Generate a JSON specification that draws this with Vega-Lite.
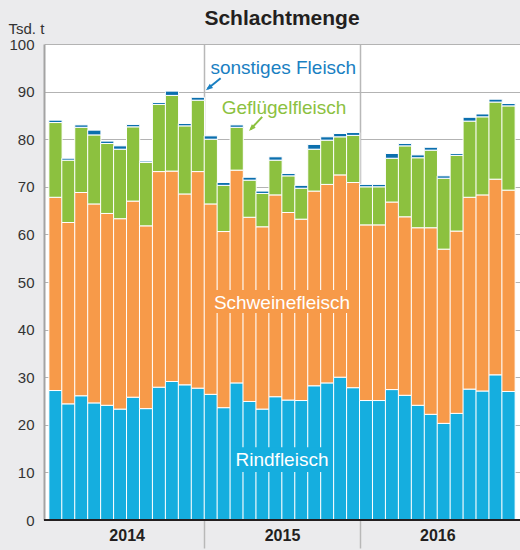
{
  "$schema": "https://vega.github.io/schema/vega-lite/v6.json",
  "width": 476,
  "height": 476,
  "autosize": {"type": "none"},
  "padding": {"left": 44, "top": 44, "right": 0, "bottom": 30},
  "background": "#ebebed",
  "view": {"fill": "white", "stroke": null},
  "config": {"font": "Liberation Sans"},
  "title": {"text": "Schlachtmenge", "fontSize": 21, "fontWeight": "bold", "color": "#231f20", "anchor": "middle", "frame": "group", "baseline": "alphabetic", "offset": -25},
  "layer": [
    {
      "data": {"values": [
        {"monat": "2014-01", "nr": 1, "Rindfleisch": 27.2, "Schweinefleisch": 40.6, "Geflügelfleisch": 15.7, "sonstiges Fleisch": 0.5},
        {"monat": "2014-02", "nr": 2, "Rindfleisch": 24.4, "Schweinefleisch": 38.1, "Geflügelfleisch": 13.1, "sonstiges Fleisch": 0.4},
        {"monat": "2014-03", "nr": 3, "Rindfleisch": 26.1, "Schweinefleisch": 42.7, "Geflügelfleisch": 13.7, "sonstiges Fleisch": 0.5},
        {"monat": "2014-04", "nr": 4, "Rindfleisch": 24.6, "Schweinefleisch": 41.8, "Geflügelfleisch": 14.5, "sonstiges Fleisch": 1.0},
        {"monat": "2014-05", "nr": 5, "Rindfleisch": 24.1, "Schweinefleisch": 40.3, "Geflügelfleisch": 14.7, "sonstiges Fleisch": 0.5},
        {"monat": "2014-06", "nr": 6, "Rindfleisch": 23.3, "Schweinefleisch": 40.0, "Geflügelfleisch": 14.6, "sonstiges Fleisch": 0.7},
        {"monat": "2014-07", "nr": 7, "Rindfleisch": 25.8, "Schweinefleisch": 41.2, "Geflügelfleisch": 15.6, "sonstiges Fleisch": 0.5},
        {"monat": "2014-08", "nr": 8, "Rindfleisch": 23.4, "Schweinefleisch": 38.4, "Geflügelfleisch": 13.3, "sonstiges Fleisch": 0.3},
        {"monat": "2014-09", "nr": 9, "Rindfleisch": 27.9, "Schweinefleisch": 45.3, "Geflügelfleisch": 14.1, "sonstiges Fleisch": 0.4},
        {"monat": "2014-10", "nr": 10, "Rindfleisch": 29.1, "Schweinefleisch": 44.2, "Geflügelfleisch": 15.9, "sonstiges Fleisch": 0.9},
        {"monat": "2014-11", "nr": 11, "Rindfleisch": 28.4, "Schweinefleisch": 40.1, "Geflügelfleisch": 14.3, "sonstiges Fleisch": 0.5},
        {"monat": "2014-12", "nr": 12, "Rindfleisch": 27.7, "Schweinefleisch": 45.5, "Geflügelfleisch": 15.0, "sonstiges Fleisch": 0.6},
        {"monat": "2015-01", "nr": 13, "Rindfleisch": 26.4, "Schweinefleisch": 40.0, "Geflügelfleisch": 13.6, "sonstiges Fleisch": 0.7},
        {"monat": "2015-02", "nr": 14, "Rindfleisch": 23.6, "Schweinefleisch": 37.0, "Geflügelfleisch": 9.7, "sonstiges Fleisch": 0.6},
        {"monat": "2015-03", "nr": 15, "Rindfleisch": 28.8, "Schweinefleisch": 44.7, "Geflügelfleisch": 9.0, "sonstiges Fleisch": 0.5},
        {"monat": "2015-04", "nr": 16, "Rindfleisch": 24.9, "Schweinefleisch": 38.7, "Geflügelfleisch": 7.8, "sonstiges Fleisch": 0.6},
        {"monat": "2015-05", "nr": 17, "Rindfleisch": 23.3, "Schweinefleisch": 38.3, "Geflügelfleisch": 7.0, "sonstiges Fleisch": 0.5},
        {"monat": "2015-06", "nr": 18, "Rindfleisch": 25.9, "Schweinefleisch": 42.4, "Geflügelfleisch": 7.3, "sonstiges Fleisch": 0.7},
        {"monat": "2015-07", "nr": 19, "Rindfleisch": 25.2, "Schweinefleisch": 39.4, "Geflügelfleisch": 7.7, "sonstiges Fleisch": 0.5},
        {"monat": "2015-08", "nr": 20, "Rindfleisch": 25.1, "Schweinefleisch": 38.1, "Geflügelfleisch": 6.5, "sonstiges Fleisch": 0.6},
        {"monat": "2015-09", "nr": 21, "Rindfleisch": 28.2, "Schweinefleisch": 40.9, "Geflügelfleisch": 8.8, "sonstiges Fleisch": 1.0},
        {"monat": "2015-10", "nr": 22, "Rindfleisch": 28.8, "Schweinefleisch": 41.7, "Geflügelfleisch": 9.3, "sonstiges Fleisch": 0.7},
        {"monat": "2015-11", "nr": 23, "Rindfleisch": 30.0, "Schweinefleisch": 42.5, "Geflügelfleisch": 8.0, "sonstiges Fleisch": 0.7},
        {"monat": "2015-12", "nr": 24, "Rindfleisch": 27.8, "Schweinefleisch": 43.1, "Geflügelfleisch": 9.9, "sonstiges Fleisch": 0.6},
        {"monat": "2016-01", "nr": 25, "Rindfleisch": 25.1, "Schweinefleisch": 36.9, "Geflügelfleisch": 8.0, "sonstiges Fleisch": 0.5},
        {"monat": "2016-02", "nr": 26, "Rindfleisch": 25.1, "Schweinefleisch": 36.9, "Geflügelfleisch": 8.0, "sonstiges Fleisch": 0.5},
        {"monat": "2016-03", "nr": 27, "Rindfleisch": 27.4, "Schweinefleisch": 39.4, "Geflügelfleisch": 9.2, "sonstiges Fleisch": 1.0},
        {"monat": "2016-04", "nr": 28, "Rindfleisch": 26.2, "Schweinefleisch": 37.5, "Geflügelfleisch": 14.9, "sonstiges Fleisch": 0.5},
        {"monat": "2016-05", "nr": 29, "Rindfleisch": 24.1, "Schweinefleisch": 37.3, "Geflügelfleisch": 14.7, "sonstiges Fleisch": 0.6},
        {"monat": "2016-06", "nr": 30, "Rindfleisch": 22.2, "Schweinefleisch": 39.2, "Geflügelfleisch": 16.3, "sonstiges Fleisch": 0.6},
        {"monat": "2016-07", "nr": 31, "Rindfleisch": 20.3, "Schweinefleisch": 36.6, "Geflügelfleisch": 14.9, "sonstiges Fleisch": 0.5},
        {"monat": "2016-08", "nr": 32, "Rindfleisch": 22.4, "Schweinefleisch": 38.3, "Geflügelfleisch": 15.9, "sonstiges Fleisch": 0.4},
        {"monat": "2016-09", "nr": 33, "Rindfleisch": 27.5, "Schweinefleisch": 40.3, "Geflügelfleisch": 16.0, "sonstiges Fleisch": 0.8},
        {"monat": "2016-10", "nr": 34, "Rindfleisch": 27.1, "Schweinefleisch": 41.2, "Geflügelfleisch": 16.4, "sonstiges Fleisch": 0.6},
        {"monat": "2016-11", "nr": 35, "Rindfleisch": 30.5, "Schweinefleisch": 41.1, "Geflügelfleisch": 16.2, "sonstiges Fleisch": 0.6},
        {"monat": "2016-12", "nr": 36, "Rindfleisch": 27.0, "Schweinefleisch": 42.3, "Geflügelfleisch": 17.7, "sonstiges Fleisch": 0.5}
      ]},
      "transform": [
        {"fold": ["Rindfleisch", "Schweinefleisch", "Geflügelfleisch", "sonstiges Fleisch"], "as": ["sorte", "wert"]},
        {"window": [{"op": "row_number", "as": "rang"}], "groupby": ["nr"]}
      ],
      "mark": {"type": "bar", "width": 13.22, "stroke": "white", "strokeWidth": 1},
      "encoding": {
        "x": {
          "field": "nr", "type": "quantitative",
          "scale": {"type": "linear", "domain": [0.5, 36.5], "nice": false, "zero": false},
          "axis": {
            "title": null,
            "values": [6.5, 12.5, 18.5, 24.5, 30.5],
            "labelExpr": "datum.value == 6.5 ? '2014' : datum.value == 18.5 ? '2015' : datum.value == 30.5 ? '2016' : ''",
            "grid": true,
            "gridColor": {"condition": {"test": "datum.value == 12.5 || datum.value == 24.5", "value": "#b8b8b8"}, "value": "transparent"},
            "gridWidth": 1.5,
            "ticks": true,
            "tickSize": 28,
            "tickWidth": 1.5,
            "tickColor": {"condition": {"test": "datum.value == 12.5 || datum.value == 24.5", "value": "#b8b8b8"}, "value": "transparent"},
            "domain": false,
            "labelFontSize": 16,
            "labelFontWeight": "bold",
            "labelColor": "#231f20",
            "labelPadding": -21,
            "labelBaseline": "top",
            "labelAlign": "center",
            "labelFlush": false,
            "labelOverlap": false
          }
        },
        "y": {
          "field": "wert", "type": "quantitative", "stack": "zero",
          "scale": {"domain": [0, 100], "nice": false},
          "axis": {
            "title": "Tsd. t",
            "titleAngle": 0,
            "titleAlign": "left",
            "titleBaseline": "alphabetic",
            "titleX": -36,
            "titleY": -11,
            "titleFontSize": 15,
            "titleFontWeight": "normal",
            "titleColor": "#333333",
            "values": [0, 10, 20, 30, 40, 50, 60, 70, 80, 90, 100],
            "grid": true,
            "gridColor": "#b3b3b3",
            "ticks": false,
            "domain": true,
            "domainColor": "#a3a3a3",
            "domainWidth": 2,
            "labelFontSize": 15,
            "labelColor": "#333333",
            "labelPadding": 10
          }
        },
        "order": {"field": "rang", "type": "quantitative", "sort": "ascending"},
        "color": {
          "field": "sorte", "type": "nominal",
          "scale": {"domain": ["Rindfleisch", "Schweinefleisch", "Geflügelfleisch", "sonstiges Fleisch"], "range": ["#15aedf", "#f79a49", "#8cc13f", "#0b6fae"]},
          "legend": null
        }
      }
    },
    {
      "data": {"values": [{}]},
      "mark": {"type": "rule", "color": "#231f20", "strokeWidth": 2},
      "encoding": {"y": {"datum": 0, "type": "quantitative"}}
    },
    {
      "data": {"values": [{}]},
      "mark": {"type": "rect", "color": "#f79a49"},
      "encoding": {
        "x": {"datum": 12.9, "type": "quantitative"}, "x2": {"datum": 23.87},
        "y": {"datum": 43.5, "type": "quantitative"}, "y2": {"datum": 48.3}
      }
    },
    {
      "data": {"values": [{}]},
      "mark": {"type": "rect", "color": "#15aedf"},
      "encoding": {
        "x": {"datum": 14.77, "type": "quantitative"}, "x2": {"datum": 22.26},
        "y": {"datum": 10.1, "type": "quantitative"}, "y2": {"datum": 15.3}
      }
    },
    {
      "data": {"values": [{}]},
      "mark": {"type": "text", "text": "Schweinefleisch", "fontSize": 19, "color": "white", "align": "center", "baseline": "alphabetic"},
      "encoding": {"x": {"datum": 18.5, "type": "quantitative"}, "y": {"datum": 44.3, "type": "quantitative"}}
    },
    {
      "data": {"values": [{}]},
      "mark": {"type": "text", "text": "Rindfleisch", "fontSize": 19, "color": "white", "align": "center", "baseline": "alphabetic"},
      "encoding": {"x": {"datum": 18.5, "type": "quantitative"}, "y": {"datum": 11.3, "type": "quantitative"}}
    },
    {
      "data": {"values": [{}]},
      "mark": {"type": "text", "text": "sonstiges Fleisch", "fontSize": 19, "color": "#1a80c2", "align": "center", "baseline": "alphabetic"},
      "encoding": {"x": {"datum": 18.6, "type": "quantitative"}, "y": {"datum": 93.7, "type": "quantitative"}}
    },
    {
      "data": {"values": [{}]},
      "mark": {"type": "text", "text": "Geflügelfleisch", "fontSize": 19, "color": "#8cc13f", "align": "center", "baseline": "alphabetic"},
      "encoding": {"x": {"datum": 18.65, "type": "quantitative"}, "y": {"datum": 85.3, "type": "quantitative"}}
    },
    {
      "data": {"values": [{}]},
      "mark": {"type": "rule", "color": "#1a80c2", "strokeWidth": 2},
      "encoding": {
        "x": {"datum": 13.76, "type": "quantitative"}, "x2": {"datum": 12.75},
        "y": {"datum": 92.8, "type": "quantitative"}, "y2": {"datum": 90.6}
      }
    },
    {
      "data": {"values": [{}]},
      "mark": {"type": "point", "shape": "M0,0L0.75,2L-0.75,2Z", "filled": true, "opacity": 1, "size": 49, "angle": 232, "color": "#1a80c2"},
      "encoding": {"x": {"datum": 12.62, "type": "quantitative"}, "y": {"datum": 90.3, "type": "quantitative"}}
    },
    {
      "data": {"values": [{}]},
      "mark": {"type": "rule", "color": "#8cc13f", "strokeWidth": 2},
      "encoding": {
        "x": {"datum": 16.97, "type": "quantitative"}, "x2": {"datum": 16.08},
        "y": {"datum": 84.7, "type": "quantitative"}, "y2": {"datum": 82.1}
      }
    },
    {
      "data": {"values": [{}]},
      "mark": {"type": "point", "shape": "M0,0L0.75,2L-0.75,2Z", "filled": true, "opacity": 1, "size": 49, "angle": 223, "color": "#8cc13f"},
      "encoding": {"x": {"datum": 15.95, "type": "quantitative"}, "y": {"datum": 81.7, "type": "quantitative"}}
    }
  ]
}
